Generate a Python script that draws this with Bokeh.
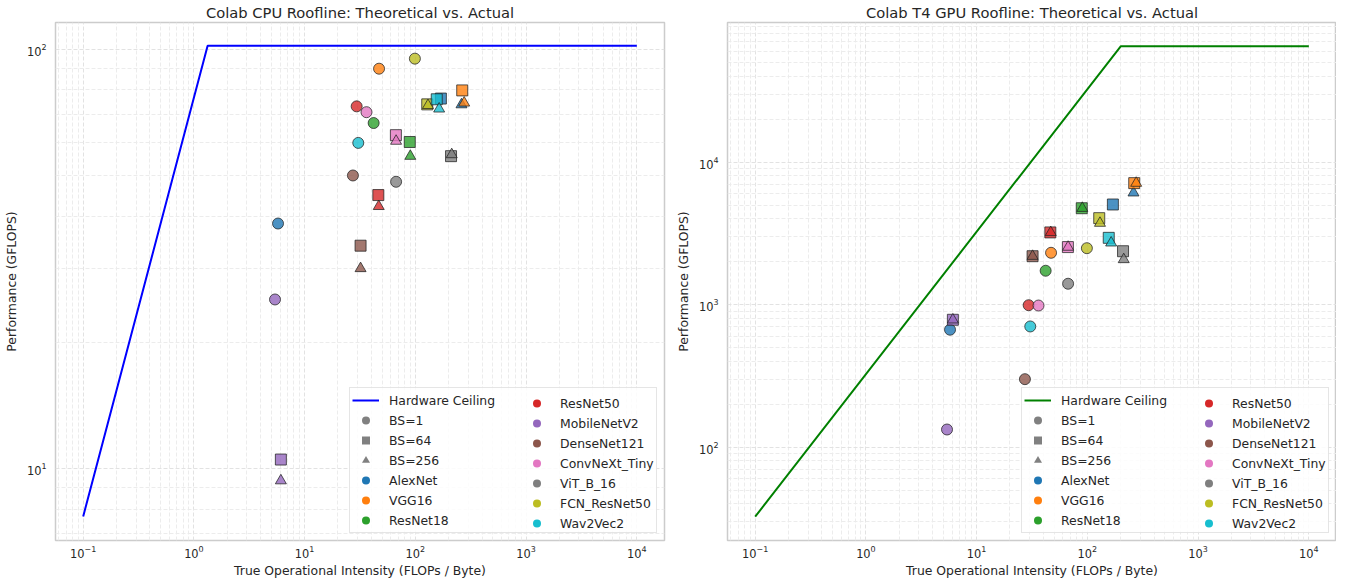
import math
from bokeh.plotting import figure
from bokeh.models import ColumnDataSource, FixedTicker, LogTickFormatter, Legend, LegendItem, Range1d
from bokeh.layouts import row
from bokeh.embed import file_html
from bokeh.resources import INLINE

# ---------------- data ----------------
models = ["AlexNet", "VGG16", "ResNet18", "ResNet50", "MobileNetV2", "DenseNet121",
          "ConvNeXt_Tiny", "ViT_B_16", "FCN_ResNet50", "Wav2Vec2"]
model_colors = ["#1f77b4", "#ff7f0e", "#2ca02c", "#d62728", "#9467bd", "#8c564b",
                "#e377c2", "#7f7f7f", "#bcbd22", "#17becf"]
batch_labels = ["BS=1", "BS=64", "BS=256"]
batch_markers = ["circle", "square", "triangle"]

# true operational intensity (FLOPs / Byte)
oi_bs1 = [5.75, 47, 42, 29.5, 5.4, 27.3, 36.2, 67, 99, 30.5]
oi_bs64 = [170, 265, 89, 46.3, 6.1, 32, 66.7, 210, 128, 156]
oi_bs256 = [261, 276, 90, 46.7, 6.1, 32, 67, 213, 130, 164]

# achieved performance (GFLOPS)
cpu_gflops_bs1 = [38.4, 89.9, 66.7, 73.1, 25.3, 50.0, 70.8, 48.3, 95.0, 59.8]
cpu_gflops_bs64 = [76.3, 79.8, 60.1, 44.9, 10.5, 34.0, 62.4, 55.6, 73.9, 76.0]
cpu_gflops_bs256 = [73.8, 74.5, 55.6, 42.2, 9.35, 30.0, 60.4, 56.1, 73.5, 72.1]

gpu_gflops_bs1 = [667, 2312, 1730, 991, 133, 300, 986, 1402, 2490, 703]
gpu_gflops_bs64 = [5045, 7125, 4750, 3213, 783, 2188, 2535, 2371, 4045, 2944]
gpu_gflops_bs256 = [6096, 7125, 4750, 3213, 783, 2188, 2535, 2075, 3733, 2716]

# hardware ceilings (roofline)
cpu_roof_oi = [0.1, 1.33, 10000]
cpu_roof_gflops = [7.68, 102, 102]
gpu_roof_oi = [0.1, 200, 10000]
gpu_roof_gflops = [32.5, 65000, 65000]

x_major = [0.1, 1, 10, 100, 1000, 10000]

FONT = "DejaVu Sans"
TXT = "#262626"


def minor_list(lo, hi):
    out = []
    for d in range(-3, 7):
        for k in range(2, 10):
            v = k * 10.0 ** d
            if lo < v < hi:
                out.append(v)
    return out


def make_panel(title, perf, roof_x, roof_y, roof_color, y_lo, y_hi, y_major,
               b_left, b_right):
    x_lo, x_hi = 10 ** -1.25, 10 ** 4.25
    p = figure(frame_width=609, frame_height=518, x_axis_type="log", y_axis_type="log",
               x_range=Range1d(x_lo, x_hi), y_range=Range1d(y_lo, y_hi),
               output_backend="svg", toolbar_location=None,
               min_border_left=b_left, min_border_right=b_right,
               min_border_top=14, min_border_bottom=10,
               background_fill_color="white", border_fill_color="white")
    p.title.text = title
    p.title.text_font = FONT
    p.title.text_font_size = "14.7px"
    p.title.text_font_style = "normal"
    p.title.text_color = TXT
    p.title.align = "center"
    p.title.standoff = 3

    xt = FixedTicker(ticks=x_major, minor_ticks=minor_list(x_lo, x_hi))
    yt = FixedTicker(ticks=y_major, minor_ticks=minor_list(y_lo, y_hi))
    p.xaxis.ticker = xt
    p.yaxis.ticker = yt
    p.xgrid.ticker = xt
    p.ygrid.ticker = yt
    p.xaxis.formatter = LogTickFormatter()
    p.yaxis.formatter = LogTickFormatter()

    for ax in (p.xaxis[0], p.yaxis[0]):
        ax.axis_line_color = None
        ax.major_tick_line_color = None
        ax.minor_tick_line_color = None
        ax.major_tick_out = 0
        ax.major_tick_in = 0
        ax.minor_tick_out = 0
        ax.minor_tick_in = 0
        ax.major_label_text_font = FONT
        ax.major_label_text_font_size = "11.4px"
        ax.major_label_text_color = TXT
        ax.axis_label_text_font = FONT
        ax.axis_label_text_font_size = "12.4px"
        ax.axis_label_text_font_style = "normal"
        ax.axis_label_text_color = TXT
    p.xaxis.axis_label = "True Operational Intensity (FLOPs / Byte)"
    p.yaxis.axis_label = "Performance (GFLOPS)"
    p.xaxis.major_label_standoff = 4
    p.xaxis.axis_label_standoff = 2
    p.yaxis.major_label_standoff = 9
    p.yaxis.axis_label_standoff = 5

    p.grid.grid_line_color = "#e2e2e2"
    p.grid.grid_line_dash = "4 2"
    p.grid.grid_line_width = 1
    p.grid.minor_grid_line_color = "#ececec"
    p.grid.minor_grid_line_dash = "4 2"
    p.grid.minor_grid_line_width = 1
    p.outline_line_color = "#cccccc"
    p.outline_line_width = 1.5

    roof = p.line(roof_x, roof_y, line_color=roof_color, line_width=2)

    xs, ys, mk, cl = [], [], [], []
    oi_sets = [oi_bs1, oi_bs64, oi_bs256]
    for i in range(len(models)):
        for oi_arr, perf_arr, m in zip(oi_sets, perf, batch_markers):
            xs.append(oi_arr[i])
            ys.append(perf_arr[i])
            mk.append(m)
            cl.append(model_colors[i])
    src = ColumnDataSource(dict(x=xs, y=ys, marker=mk, color=cl))
    p.scatter("x", "y", source=src, marker="marker", size=11,
              fill_color="color", fill_alpha=0.8,
              line_color="#222222", line_alpha=0.75, line_width=1)

    nan = float("nan")
    bs_r = [p.scatter([nan], [nan], marker=m, size=8, fill_color="gray", line_color=None)
            for m in batch_markers]
    mod_r = [p.scatter([nan], [nan], marker="circle", size=8, fill_color=c, line_color=None)
             for c in model_colors]

    items_a = [LegendItem(label="Hardware Ceiling", renderers=[roof])]
    items_a += [LegendItem(label=l, renderers=[r]) for l, r in zip(batch_labels, bs_r)]
    items_a += [LegendItem(label=models[i], renderers=[mod_r[i]]) for i in range(3)]
    items_b = [LegendItem(label=models[i], renderers=[mod_r[i]]) for i in range(3, 10)]

    common = dict(location="bottom_right", margin=7, padding=2, spacing=0,
                  glyph_width=27, glyph_height=20, label_height=20, label_standoff=10,
                  label_text_font=FONT, label_text_font_size="12.4px",
                  label_text_color=TXT)
    leg_a = Legend(items=items_a, label_width=265, border_line_color="#cccccc",
                   border_line_width=1, background_fill_color="white",
                   background_fill_alpha=0.85, **common)
    leg_b = Legend(items=items_b, label_width=97, border_line_color=None,
                   background_fill_alpha=0.0, **common)
    p.add_layout(leg_a)
    p.add_layout(leg_b)
    return p


p1 = make_panel("Colab CPU Roofline: Theoretical vs. Actual",
                [cpu_gflops_bs1, cpu_gflops_bs64, cpu_gflops_bs256],
                cpu_roof_oi, cpu_roof_gflops, "#0000ff",
                10 ** 0.828, 10 ** 2.064, [10, 100],
                49, 8)
p2 = make_panel("Colab T4 GPU Roofline: Theoretical vs. Actual",
                [gpu_gflops_bs1, gpu_gflops_bs64, gpu_gflops_bs256],
                gpu_roof_oi, gpu_roof_gflops, "#008000",
                10 ** 1.345, 10 ** 4.98, [100, 1000, 10000],
                55, 0)

layout = row(p1, p2)
open("out.html", "w").write(file_html(layout, INLINE, title="Roofline"))
